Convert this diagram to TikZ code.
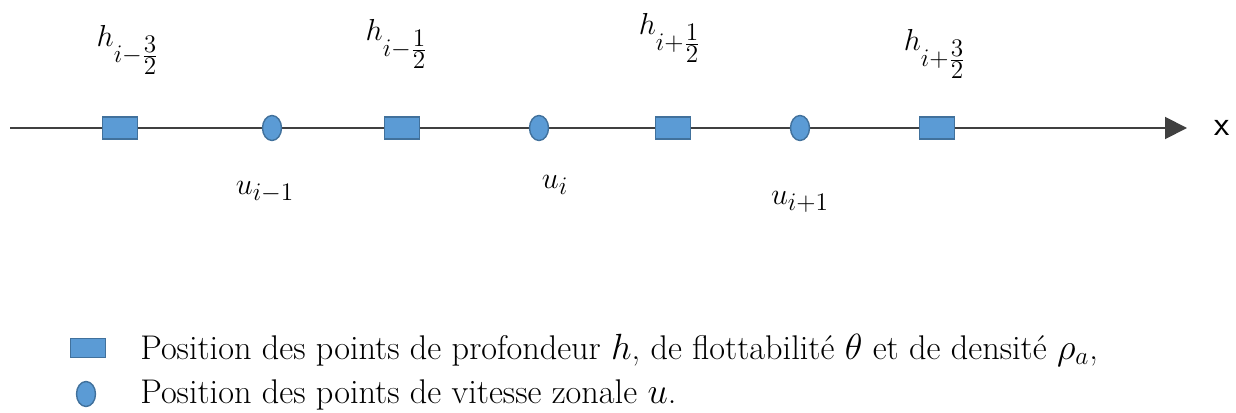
\documentclass[tikz,border=0pt]{standalone}
\usepackage{amsmath}
\usetikzlibrary{arrows.meta,shapes.geometric}
\definecolor{fillblue}{HTML}{5B9BD5}
\definecolor{edgeblue}{HTML}{41719C}
\definecolor{axisgray}{HTML}{404040}
\newcommand{\hfr}[2]{\frac{\scriptstyle #1}{\scriptstyle #2}}
\begin{document}
\begin{tikzpicture}[x=0.02cm,y=-0.02cm,
  hbox/.style={draw=edgeblue,fill=fillblue,line width=0.8pt,minimum width=0.7cm,minimum height=0.44cm,inner sep=0pt},
  ubox/.style={ellipse,draw=edgeblue,fill=fillblue,line width=0.8pt,minimum width=0.38cm,minimum height=0.5cm,inner sep=0pt},
  lab/.style={inner sep=0pt,font=\fontsize{19}{23}\selectfont},
  leg/.style={inner sep=0pt,anchor=west,font=\fontsize{19.5}{23}\selectfont}]
\useasboundingbox (0,0) rectangle (1236,412);
\coordinate (start) at (10,128);
\coordinate (tip) at (1187,128);
\draw[axisgray,line width=1.1pt,-{Triangle[length=0.44cm,width=0.44cm]}] (start) -- (tip);
\node[inner sep=0pt,font=\sffamily\fontsize{20}{24}\selectfont] (xl) at (1222,128) {x};
\node[hbox] (h1) at (120,128) {};
\node[ubox] (u1) at (272,128) {};
\node[hbox] (h2) at (402,128) {};
\node[ubox] (u2) at (539,128) {};
\node[hbox] (h3) at (673,128) {};
\node[ubox] (u3) at (800,128) {};
\node[hbox] (h4) at (937,128) {};
\node[lab] (lh1) at (128,50) {$h_{i-\hfr{3}{2}}$};
\node[lab] (lh2) at (397,44) {$h_{i-\hfr{1}{2}}$};
\node[lab] (lh3) at (670,38) {$h_{i+\hfr{1}{2}}$};
\node[lab] (lh4) at (935,54) {$h_{i+\hfr{3}{2}}$};
\node[lab] (lu1) at (265,192) {$u_{i-1}$};
\node[lab] (lu2) at (555,185) {$u_{i}$};
\node[lab] (lu3) at (800,202) {$u_{i+1}$};
\node[hbox,minimum height=0.38cm] (lgh) at (88,348) {};
\node[ubox] (lgu) at (86,394) {};
\node[leg] (t1) at (140,350) {Position des points de profondeur $h$, de flottabilité $\theta$ et de densité $\rho_a$,};
\node[leg] (t2) at (140,395) {Position des points de vitesse zonale $u$.};
\end{tikzpicture}
\end{document}
